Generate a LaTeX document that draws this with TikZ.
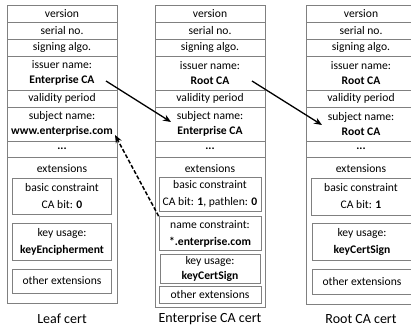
\documentclass[tikz,border=0pt]{standalone}
\usepackage{fontspec}
\setmainfont{Carlito}
\usetikzlibrary{arrows.meta}
\definecolor{frame}{RGB}{128,128,128}
\begin{document}
\begin{tikzpicture}[x=1pt,y=-1pt,
  every node/.style={font=\fontsize{11.6}{15}\selectfont, inner sep=0pt, align=center},
  row/.style={draw=frame, line width=0.7pt, minimum width=110pt},
  box/.style={draw=frame, line width=0.7pt, font=\fontsize{11.6}{17}\selectfont},
  caption/.style={font=\fontsize{14}{16}\selectfont},
  link/.style={line width=1.3pt, -{Stealth[length=8pt,width=6.5pt]}},
  dlink/.style={line width=1.5pt, dash pattern=on 4pt off 2pt, -{Stealth[length=8pt,width=6.5pt]}},
]
\useasboundingbox (0,0) rectangle (411,332);
% ---------- Leaf cert ----------
\node[row, minimum height=17pt] (Lver) at (62,13.5) {version};
\node[row, minimum height=17pt] (Lser) at (62,30.5) {serial no.};
\node[row, minimum height=17pt] (Lsig) at (62,47.5) {signing algo.};
\node[row, minimum height=34pt] (Liss) at (62,73) {issuer name:\\\textbf{Enterprise CA}};
\node[row, minimum height=17pt] (Lval) at (62,98.5) {validity period};
\node[row, minimum height=34pt] (Lsub) at (62,124) {subject name:\\\textbf{www.enterprise.com}};
\node[row, minimum height=16pt] (Ldot) at (62,149) {\textbf{...}};
\node[row, minimum height=146pt] (Lext) at (62,230) {};
\node (Lexth) at (62,169) {extensions};
\node[box, minimum width=99pt, minimum height=36pt] (Lbc) at (62,196) {basic constraint\\CA bit: \textbf{0}};
\node[box, minimum width=99pt, minimum height=37pt] (Lku) at (62,241.5) {key usage:\\\textbf{keyEncipherment}};
\node[box, minimum width=99pt, minimum height=24pt] (Lot) at (62,281) {other extensions};
\node[caption] (Llab) at (62,319) {Leaf cert};
% ---------- Enterprise CA cert ----------
\node[row, minimum height=17pt] (Ever) at (210,13.5) {version};
\node[row, minimum height=17pt] (Eser) at (210,30.5) {serial no.};
\node[row, minimum height=17pt] (Esig) at (210,47.5) {signing algo.};
\node[row, minimum height=34pt] (Eiss) at (210,73) {issuer name:\\\textbf{Root CA}};
\node[row, minimum height=17pt] (Eval) at (210,98.5) {validity period};
\node[row, minimum height=34pt] (Esub) at (210,124) {subject name:\\\textbf{Enterprise CA}};
\node[row, minimum height=16pt] (Edot) at (210,149) {\textbf{...}};
\node[row, minimum height=150pt] (Eext) at (210,232) {};
\node (Eexth) at (210,169) {extensions};
\node[box, minimum width=102pt, minimum height=34pt] (Ebc) at (210,194) {basic constraint\\CA bit: \textbf{1}, pathlen: \textbf{0}};
\node[box, minimum width=102pt, minimum height=34pt] (Enc) at (210,233.5) {name constraint:\\\textbf{*.enterprise.com}};
\node[box, minimum width=100pt, minimum height=29pt, font=\fontsize{11.6}{15}\selectfont] (Eku) at (210,269) {key usage:\\\textbf{keyCertSign}};
\node[box, minimum width=102pt, minimum height=17pt] (Eot) at (210,295) {other extensions};
\node[caption] (Elab) at (210,319) {Enterprise CA cert};
% ---------- Root CA cert ----------
\node[row, minimum height=17pt] (Rver) at (361,13.5) {version};
\node[row, minimum height=17pt] (Rser) at (361,30.5) {serial no.};
\node[row, minimum height=17pt] (Rsig) at (361,47.5) {signing algo.};
\node[row, minimum height=34pt] (Riss) at (361,73) {issuer name:\\\textbf{Root CA}};
\node[row, minimum height=17pt] (Rval) at (361,98.5) {validity period};
\node[row, minimum height=34pt] (Rsub) at (361,124) {subject name:\\\textbf{Root CA}};
\node[row, minimum height=16pt] (Rdot) at (361,149) {\textbf{...}};
\node[row, minimum height=147pt] (Rext) at (361,230.5) {};
\node (Rexth) at (361,169) {extensions};
\node[box, minimum width=100pt, minimum height=37pt] (Rbc) at (361,196.5) {basic constraint\\CA bit: \textbf{1}};
\node[box, minimum width=100pt, minimum height=37pt] (Rku) at (362,241.5) {key usage:\\\textbf{keyCertSign}};
\node[box, minimum width=100pt, minimum height=25pt] (Rot) at (362,281.5) {other extensions};
\node[caption] (Rlab) at (361,319) {Root CA cert};
% ---------- connectors ----------
\coordinate (LissEnd) at (106,81);
\coordinate (EsubHead) at (171,122);
\coordinate (EissEnd) at (252,81);
\coordinate (RsubHead) at (322,125);
\coordinate (LsubHead) at (115,135);
\draw[link] (LissEnd) -- (EsubHead);
\draw[link] (EissEnd) -- (RsubHead);
\draw[dlink] (Enc.north west) -- (LsubHead);
\end{tikzpicture}
\end{document}
